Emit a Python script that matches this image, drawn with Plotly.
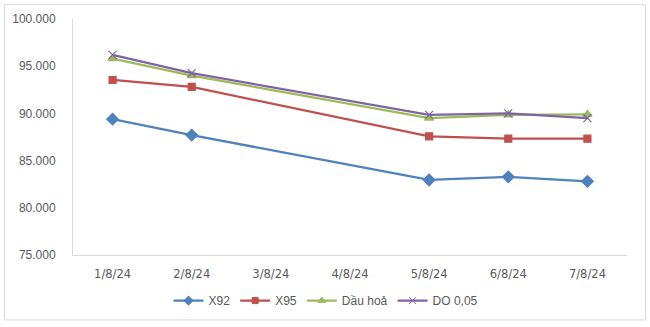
import plotly.graph_objects as go

categories = ["1/8/24", "2/8/24", "3/8/24", "4/8/24", "5/8/24", "6/8/24", "7/8/24"]
x92 = [89390, 87700, None, None, 82950, 83280, 82800]
x95 = [93540, 92800, None, None, 87570, 87320, 87320]
dau_hoa = [95800, 94000, None, None, 89500, 89840, 89900]
do005 = [96200, 94270, None, None, 89840, 90000, 89500]

series = [
    ("X92", x92, "#4F81BD", "diamond", 9, 7),
    ("X95", x95, "#C0504D", "square", 7, 6),
    ("Dầu hoả", dau_hoa, "#9BBB59", "triangle-up", 8, 7),
    ("DO 0,05", do005, "#8064A2", "x-thin-open", 8, 7),
]

fig = go.Figure()
for name, vals, color, sym, size, lsize in series:
    fig.add_trace(go.Scatter(
        x=categories, y=vals, name=name, mode="lines+markers",
        connectgaps=True, showlegend=False,
        line=dict(color=color, width=2.25),
        marker=dict(symbol=sym, size=size, color=color,
                    line=dict(color=color, width=1.2)),
    ))
for name, vals, color, sym, size, lsize in series:
    # legend entry with the smaller legend marker
    fig.add_trace(go.Scatter(
        x=[categories[0]], y=[None], name=name, mode="lines+markers",
        line=dict(color=color, width=2.25),
        marker=dict(symbol=sym, size=lsize, color=color,
                    line=dict(color=color, width=1)),
        hoverinfo="skip",
    ))

W, H = 650, 327
L, R, T, B = 73, 23, 19, 70
pw, ph = W - L - R, H - T - B

def px_x(p):
    return (p - L) / pw

def px_y(p):
    return (H - B - p) / ph

fig.update_layout(
    width=W, height=H,
    margin=dict(l=L, r=R, t=T, b=B),
    paper_bgcolor="white", plot_bgcolor="white",
    separators=",.",
    font=dict(family="Liberation Sans, Arial, sans-serif", size=12, color="#595959"),
    showlegend=True,
    legend=dict(orientation="h", x=px_x(326), xanchor="center",
                y=px_y(303), yanchor="middle",
                font=dict(size=12, color="#595959"),
                itemwidth=30, tracegroupgap=0),
    xaxis=dict(showgrid=False, showline=True, linecolor="#D9D9D9", linewidth=1,
               ticks="", tickfont=dict(family="DejaVu Sans, sans-serif", size=11.5, color="#595959"),
               ticklabelstandoff=8,
               range=[-0.5, 6.5], zeroline=False),
    yaxis=dict(showgrid=False, showline=True, linecolor="#D9D9D9", linewidth=1,
               range=[75000, 100000], dtick=5000, tickformat=",d",
               ticks="", tickfont=dict(size=12, color="#595959"),
               ticklabelstandoff=14, zeroline=False),
    shapes=[dict(type="rect", xref="paper", yref="paper",
                 x0=px_x(4.5), x1=px_x(645.5), y0=px_y(322.5), y1=px_y(4.5),
                 line=dict(color="#D9D9D9", width=1), layer="below")],
)

fig.write_html("out.html")
